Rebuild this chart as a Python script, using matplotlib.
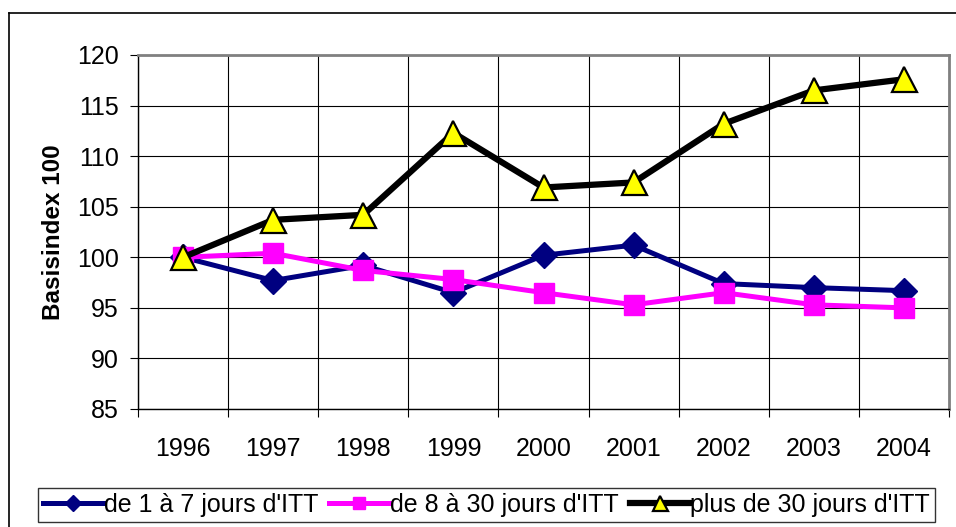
import matplotlib
matplotlib.use("Agg")
import matplotlib.pyplot as plt
from matplotlib.lines import Line2D
from numpy import arange

plt.rcParams['font.family'] = ['Liberation Sans', 'DejaVu Sans']

years = ['1996', '1997', '1998', '1999', '2000', '2001', '2002', '2003', '2004']
jours_1_7 = [100.0, 97.7, 99.2, 96.5, 100.2, 101.2, 97.4, 97.0, 96.7]
jours_8_30 = [100.0, 100.4, 98.7, 97.8, 96.5, 95.3, 96.5, 95.3, 95.0]
plus_30 = [100.0, 103.7, 104.2, 112.3, 106.9, 107.4, 113.2, 116.5, 117.6]
labels = ["de 1 à 7 jours d'ITT", "de 8 à 30 jours d'ITT", "plus de 30 jours d'ITT"]

W, H = 956, 527
fig = plt.figure(figsize=(W / 100, H / 100), dpi=100)

# outer chart frame (only top and left edges are inside the picture)
fig.add_artist(Line2D([9 / W, 1], [1 - 13 / H, 1 - 13 / H], color='black', lw=1.2))
fig.add_artist(Line2D([9 / W, 9 / W], [0, 1 - 13 / H], color='black', lw=1.2))

left, top, right, bottom = 138, 55, 949, 409
ax = fig.add_axes([left / W, 1 - bottom / H, (right - left) / W, (bottom - top) / H])

x = arange(len(years))
ax.plot(x, jours_1_7, color='#000080', lw=3.6, marker='D', ms=13,
        mec='#000080', mfc='#000080', label=labels[0], zorder=3)
ax.plot(x, jours_8_30, color='#FF00FF', lw=3.6, marker='s', ms=14,
        mec='#FF00FF', mfc='#FF00FF', label=labels[1], zorder=4)
ax.plot(x, plus_30, color='black', lw=4.5, marker='^', ms=18,
        mec='black', mew=1.6, mfc='#FFFF00', label=labels[2], zorder=5)

ax.set_xlim(-0.5, len(years) - 0.5)
ax.set_ylim(85, 120)
ax.set_yticks(arange(85, 121, 5))
ax.set_xticks(x)
ax.set_xticklabels(years)
ax.set_xticks(arange(-0.5, len(years), 1), minor=True)

ax.tick_params(axis='x', which='major', length=0, pad=20, labelsize=18)
ax.tick_params(axis='x', which='minor', length=6, width=0.8, direction='out')
ax.tick_params(axis='y', length=6, width=0.8, direction='out', pad=8, labelsize=18)

ax.grid(axis='y', which='major', color='black', lw=0.8)
ax.grid(axis='x', which='minor', color='black', lw=0.8)
ax.set_axisbelow(True)

for side in ['top', 'right']:
    ax.spines[side].set_color('#808080')
    ax.spines[side].set_linewidth(2)
for side in ['left', 'bottom']:
    ax.spines[side].set_color('black')
    ax.spines[side].set_linewidth(1)

ax.set_ylabel('Basisindex 100', fontsize=17.5, fontweight='bold')
ax.yaxis.set_label_coords(-0.09, 0.5)

leg = fig.legend(loc='upper left', bbox_to_anchor=(38 / W, 1 - 488 / H), ncol=3,
                 fontsize=18, frameon=True, fancybox=False, edgecolor='black',
                 handlelength=2.4, handletextpad=0.02, columnspacing=0.45,
                 borderpad=0.2, borderaxespad=0, markerscale=0.6)
leg.get_frame().set_linewidth(1)

fig.savefig('out.png', dpi=100)
